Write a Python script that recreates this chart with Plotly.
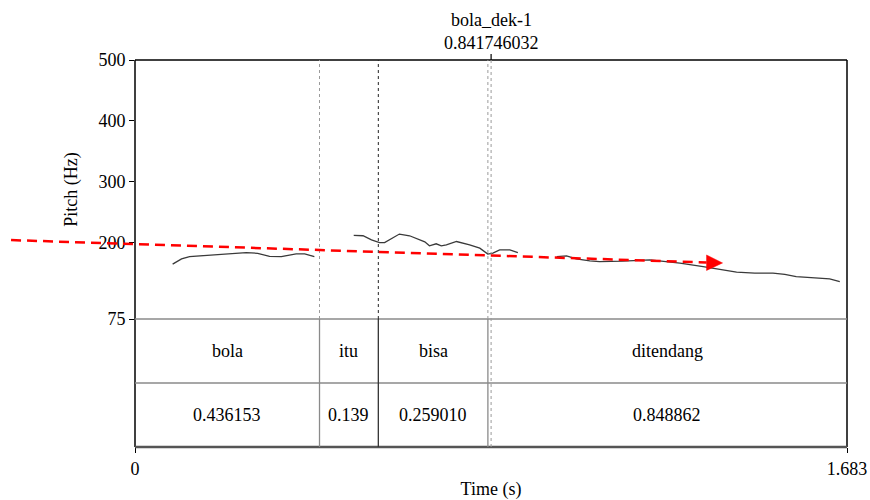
import plotly.graph_objects as go

# ---- data ----
words = ["bola", "itu", "bisa", "ditendang"]
durations = [0.436153, 0.139, 0.259010, 0.848862]
duration_labels = ["0.436153", "0.139", "0.259010", "0.848862"]
cursor_time = 0.841746032
cursor_label = "bola_dek-1"
y_ticks = [75, 200, 300, 400, 500]
y_range = [75, 500]

seg1_t = [0.089, 0.110, 0.129, 0.176, 0.223, 0.263, 0.290, 0.318, 0.346, 0.381, 0.401, 0.424]
seg1_hz = [165.0, 173.7, 177.5, 179.5, 182.0, 184.0, 182.8, 177.8, 177.5, 182.0, 182.0, 177.5]
seg2_t = [0.517, 0.539, 0.559, 0.578, 0.590, 0.607, 0.625, 0.649, 0.669, 0.685, 0.696, 0.712,
          0.724, 0.736, 0.760, 0.774, 0.791, 0.815, 0.826, 0.834, 0.846, 0.862, 0.886, 0.905]
seg2_hz = [212.1, 211.6, 205.0, 200.5, 200.5, 207.5, 214.4, 211.6, 206.1, 201.7, 195.1, 198.4,
           195.1, 196.8, 202.2, 200.0, 196.8, 191.3, 186.1, 181.5, 183.1, 188.5, 188.5, 184.1]
seg3_t = [0.997, 1.020, 1.043, 1.075, 1.098, 1.153, 1.217, 1.252, 1.288, 1.343, 1.382, 1.422,
          1.465, 1.508, 1.536, 1.563, 1.607, 1.642, 1.666]
seg3_hz = [177.5, 178.6, 173.7, 170.4, 169.3, 169.9, 172.1, 169.6, 166.6, 161.0, 156.8, 151.8,
           150.2, 150.2, 148.2, 144.6, 142.4, 140.8, 136.4]

trend_t = [-0.293, 1.351]
trend_hz = [204.5, 167.8]

# ---- derived ----
bounds = [0.0]
for d in durations:
    bounds.append(bounds[-1] + d)
total = bounds[-1]

pitch_domain_bottom = 0.3307
tier_mid = 0.1654
FS = 18

def xfrac(t):
    return (t - 0.0) / (total - 0.0)

def yfrac(hz):
    return (hz - y_range[0]) / (y_range[1] - y_range[0])

px_t, px_hz = [], []
for ts, hs in [(seg1_t, seg1_hz), (seg2_t, seg2_hz), (seg3_t, seg3_hz)]:
    px_t += ts + [None]
    px_hz += hs + [None]

fig = go.Figure()
fig.add_trace(go.Scatter(x=px_t, y=px_hz, mode="lines",
                         line=dict(color="#3a3a3a", width=1.3),
                         connectgaps=False, hoverinfo="skip", showlegend=False))

shapes = []
# borders
shapes.append(dict(type="line", xref="paper", yref="paper", x0=0, x1=0, y0=0, y1=1,
                   line=dict(color="black", width=1.5)))
shapes.append(dict(type="line", xref="paper", yref="paper", x0=1, x1=1, y0=0, y1=1,
                   line=dict(color="black", width=1.5)))
shapes.append(dict(type="line", xref="paper", yref="paper", x0=0, x1=1, y0=1, y1=1,
                   line=dict(color="black", width=1.5)))
shapes.append(dict(type="line", xref="paper", yref="paper", x0=0, x1=1,
                   y0=pitch_domain_bottom, y1=pitch_domain_bottom,
                   line=dict(color="#8a8a8a", width=1.5)))
shapes.append(dict(type="line", xref="paper", yref="paper", x0=0, x1=1,
                   y0=tier_mid, y1=tier_mid, line=dict(color="#8a8a8a", width=1.5)))
shapes.append(dict(type="line", xref="paper", yref="paper", x0=0, x1=1, y0=0, y1=0,
                   line=dict(color="#555555", width=2.5)))

# interval boundaries
b_styles = [("#9a9a9a", "dot", "#8a8a8a"), ("#222222", "3px,3px", "#333333"), ("#9a9a9a", "dot", "#8a8a8a")]
for b, (c_top, dash_top, c_tier) in zip(bounds[1:-1], b_styles):
    shapes.append(dict(type="line", xref="x", yref="paper", x0=b, x1=b,
                       y0=pitch_domain_bottom, y1=1, line=dict(color=c_top, width=1, dash=dash_top)))
    shapes.append(dict(type="line", xref="x", yref="paper", x0=b, x1=b,
                       y0=0, y1=pitch_domain_bottom, line=dict(color=c_tier, width=1.3)))
# cursor
shapes.append(dict(type="line", xref="x", yref="paper", x0=cursor_time, x1=cursor_time,
                   y0=0, y1=1, line=dict(color="#9a9a9a", width=1, dash="dot")))
shapes.append(dict(type="line", xref="x", yref="paper", x0=cursor_time, x1=cursor_time,
                   y0=1, y1=1 + 6 / 387, line=dict(color="black", width=1.2)))

# red trend arrow
shapes.append(dict(type="line", xref="x domain", yref="y domain",
                   x0=xfrac(trend_t[0]), x1=xfrac(trend_t[1]),
                   y0=yfrac(trend_hz[0]), y1=yfrac(trend_hz[1]),
                   line=dict(color="#ff0000", width=2.5, dash="10px,6px")))
shapes.append(dict(type="path", xref="x", yref="y", xsizemode="pixel", ysizemode="pixel",
                   xanchor=trend_t[1], yanchor=trend_hz[1],
                   path="M0,7.5 L16,-0.5 L0,-8 Z",
                   fillcolor="#ff0000", line=dict(color="#ff0000", width=0.5)))

annotations = []
for i, w in enumerate(words):
    mid = (bounds[i] + bounds[i + 1]) / 2
    annotations.append(dict(x=mid, y=0.2488, xref="x", yref="paper", text=w,
                            showarrow=False, yanchor="middle", font=dict(size=FS)))
    annotations.append(dict(x=mid, y=0.0827, xref="x", yref="paper", text=duration_labels[i],
                            showarrow=False, yanchor="middle", font=dict(size=FS)))
annotations.append(dict(x=cursor_time, y=1.103, xref="x", yref="paper", text=cursor_label,
                        showarrow=False, yanchor="middle", font=dict(size=FS)))
annotations.append(dict(x=cursor_time, y=1.044, xref="x", yref="paper", text=f"{cursor_time:.9f}",
                        showarrow=False, yanchor="middle", font=dict(size=FS)))

fig.update_layout(
    width=870, height=500,
    margin=dict(l=135, r=23, t=60, b=53),
    paper_bgcolor="white", plot_bgcolor="white",
    font=dict(family="Liberation Serif", size=FS, color="black"),
    showlegend=False,
    shapes=shapes,
    annotations=annotations,
    xaxis=dict(range=[0, total], anchor="free", position=0, automargin=False,
               tickvals=[0, total], ticktext=["0", f"{total:.3f}"],
               ticks="outside", ticklen=5, tickcolor="black", tickwidth=1.2,
               tickfont=dict(size=FS),
               showgrid=False, zeroline=False, showline=False,
               title=dict(text="Time (s)", standoff=6, font=dict(size=FS))),
    yaxis=dict(domain=[pitch_domain_bottom, 1], range=y_range, tickvals=y_ticks, automargin=False,
               ticks="outside", ticklen=5, tickcolor="black", tickwidth=1.2,
               tickfont=dict(size=FS),
               showgrid=False, zeroline=False, showline=False,
               title=dict(text="Pitch (Hz)", standoff=16, font=dict(size=FS))),
)

fig.write_html("out.html")
